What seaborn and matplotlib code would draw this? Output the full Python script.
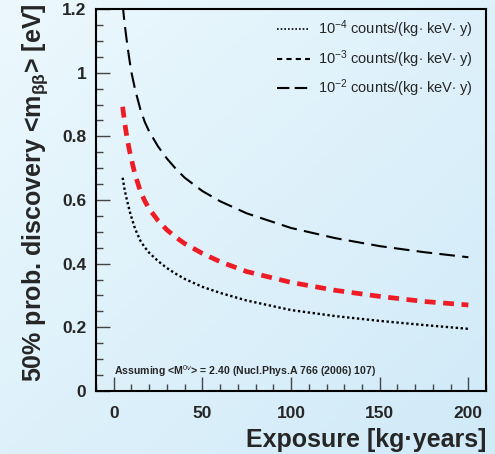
import numpy as np
import pandas as pd
import matplotlib
matplotlib.use('Agg')
import matplotlib.pyplot as plt
from matplotlib.lines import Line2D
from matplotlib.ticker import MultipleLocator, FormatStrFormatter
import seaborn as sns

# values
exposure = [5, 6, 7, 8, 9, 10, 12, 15, 17.5, 20, 25, 30, 35, 40, 50, 60, 75,
            100, 125, 150, 175, 200]
bkg_1e4 = [0.670, 0.636, 0.610, 0.587, 0.564, 0.545, 0.510, 0.472, 0.451, 0.434,
           0.408, 0.386, 0.368, 0.352, 0.327, 0.308, 0.284, 0.254, 0.235, 0.220,
           0.207, 0.195]
bkg_1e3 = [0.893, 0.850, 0.812, 0.780, 0.752, 0.727, 0.680, 0.628, 0.597, 0.572,
           0.535, 0.506, 0.483, 0.463, 0.432, 0.406, 0.375, 0.341, 0.316, 0.297,
           0.281, 0.270]
bkg_1e2 = [1.215, 1.160, 1.115, 1.073, 1.035, 1.000, 0.948, 0.885, 0.845, 0.815,
           0.768, 0.730, 0.698, 0.670, 0.628, 0.596, 0.558, 0.512, 0.480, 0.455,
           0.436, 0.420]
labels = [r'10$^{-4}$ counts/(kg$\cdot$ keV$\cdot$ y)',
          r'10$^{-3}$ counts/(kg$\cdot$ keV$\cdot$ y)',
          r'10$^{-2}$ counts/(kg$\cdot$ keV$\cdot$ y)']

n = len(exposure)
df = pd.DataFrame({
    'exposure': exposure * 3,
    'mbb': bkg_1e4 + bkg_1e3 + bkg_1e2,
    'bkg': [labels[0]] * n + [labels[1]] * n + [labels[2]] * n,
})

sns.set_style('ticks')
plt.rcParams['font.family'] = ['Liberation Sans', 'DejaVu Sans']
plt.rcParams['mathtext.fontset'] = 'custom'
plt.rcParams['mathtext.rm'] = 'Liberation Sans'
plt.rcParams['mathtext.bf'] = 'Liberation Sans:bold'
plt.rcParams['mathtext.it'] = 'Liberation Sans:italic'

fig = plt.figure(figsize=(4.95, 4.54), dpi=100)

# light blue gradient background
bg = fig.add_axes([0, 0, 1, 1], zorder=-10)
gx, gy = np.meshgrid(np.linspace(0, 1, 200), np.linspace(0, 1, 200))
t = (gx + gy) / 2
c0 = np.array([236, 248, 253]) / 255
c1 = np.array([208, 234, 248]) / 255
img = c0[None, None, :] * (1 - t[..., None]) + c1[None, None, :] * t[..., None]
bg.imshow(img, aspect='auto', extent=[0, 1, 0, 1], origin='upper')
bg.axis('off')

ax = fig.add_axes([0.194, 0.139, 0.788, 0.841])
ax.set_facecolor('none')

styles = {
    labels[0]: dict(color='black', lw=1.7, ls=(0, (1, 1.1))),
    labels[1]: dict(color='#ee1c24', lw=3.4, ls=(0, (2.3, 1.6))),
    labels[2]: dict(color='black', lw=1.5, ls=(0, (7.5, 3.5))),
}
for lab in labels:
    sub = df[df['bkg'] == lab]
    sns.lineplot(data=sub, x='exposure', y='mbb', ax=ax, **styles[lab])

ax.set_xlim(-10, 210)
ax.set_ylim(0, 1.2)
ax.xaxis.set_major_locator(MultipleLocator(50))
ax.xaxis.set_minor_locator(MultipleLocator(10))
ax.yaxis.set_major_locator(MultipleLocator(0.2))
ax.yaxis.set_minor_locator(MultipleLocator(0.05))
ax.yaxis.set_major_formatter(FormatStrFormatter('%g'))
ax.tick_params(which='both', direction='in', top=False, right=False, width=1.0, color='#444444')
ax.tick_params(which='major', length=10, labelsize=12.5)
ax.tick_params(axis='x', which='major', pad=11)
ax.tick_params(axis='y', which='major', pad=7)
ax.tick_params(which='minor', length=5)
for lbl in ax.get_xticklabels() + ax.get_yticklabels():
    lbl.set_fontweight('bold')
for sp in ax.spines.values():
    sp.set_linewidth(1.5)
    sp.set_color('black')

ax.set_xlabel('Exposure [kg\u00b7years]', fontsize=18, fontweight='bold', loc='right')
ax.xaxis.set_label_coords(1.0, -0.097)
ax.set_ylabel(r'50% prob. discovery <$\mathbf{m}_{\mathbf{\beta\beta}}$> [eV]', fontsize=18,
              fontweight='bold', loc='top')
ax.yaxis.set_label_coords(-0.118, 1.015)

handles = [Line2D([], [], color='black', lw=1.2, ls=(0, (1, 1.2))),
           Line2D([], [], color='black', lw=1.5, ls=(0, (2.5, 2))),
           Line2D([], [], color='black', lw=1.5, ls=(0, (6, 2.5)))]
ax.legend(handles, labels, loc='upper right', frameon=False, fontsize=10.5,
          handlelength=2.2, handletextpad=0.6, labelspacing=0.55,
          bbox_to_anchor=(1.0, 1.01))

ax.text(0, 0.063, r'Assuming <M$^{0\nu}$> = 2.40 (Nucl.Phys.A 766 (2006) 107)',
        fontsize=7.6, fontweight='bold', va='center', ha='left')

fig.savefig('out.png', dpi=100)
